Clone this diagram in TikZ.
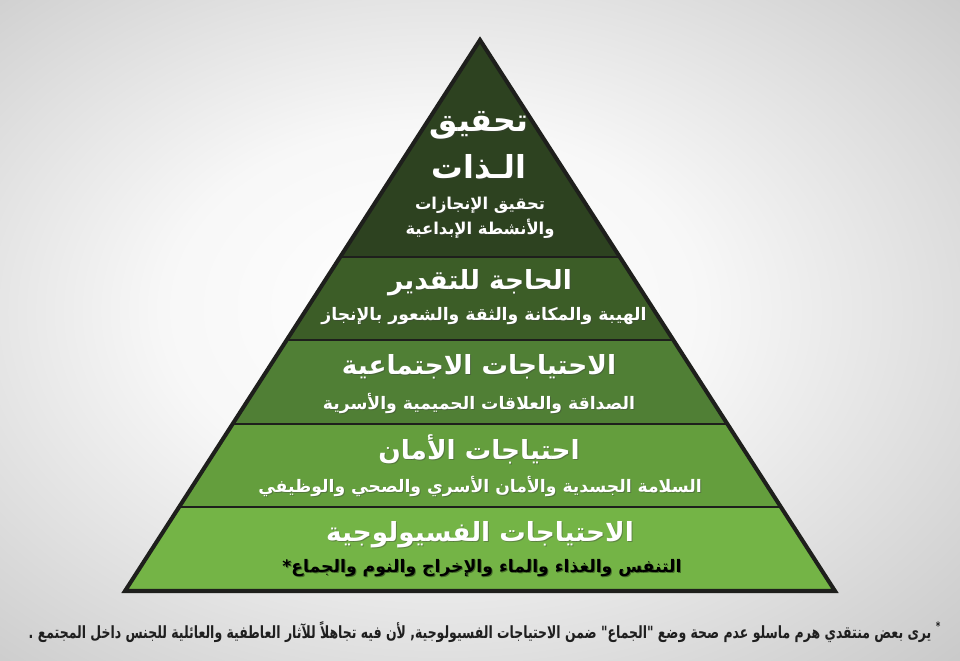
\documentclass[tikz,border=0pt]{standalone}
\usepackage{fontspec}
\usetikzlibrary{calc}
\TeXXeTstate=1
\newfontfamily\arabicfont[Script=Arabic]{DejaVu Sans}
\definecolor{lvlA}{HTML}{2D4220}
\definecolor{lvlB}{HTML}{3C5D27}
\definecolor{lvlC}{HTML}{507F35}
\definecolor{lvlD}{HTML}{649E3D}
\definecolor{lvlE}{HTML}{74B446}
\definecolor{rim}{HTML}{1E1F1C}
\pgfdeclareradialshading{backdrop}{\pgfpoint{-3bp}{2bp}}{color(0bp)=(white); color(14bp)=(white!97!black); color(50bp)=(black!31); color(74bp)=(black!46)}
\tikzset{
  edge/.style={draw=rim, line width=1.8pt},
  head/.style={text=white, font=\arabicfont\bfseries\fontsize{15}{17}\selectfont},
  bighead/.style={text=white, font=\arabicfont\bfseries\fontsize{18}{20}\selectfont},
  sub/.style={text=white, font=\arabicfont\bfseries\fontsize{9.8}{12}\selectfont},
  topsub/.style={sub, font=\arabicfont\bfseries\fontsize{9.3}{11}\selectfont},
  note/.style={text=black!88, font=\arabicfont\bfseries\fontsize{7.1}{9}\selectfont},
}
% text with a soft dark shadow
\newcommand{\shadowed}[4]{%
  \node[#3, text=black!75, opacity=0.4] (#1s) at ($(#2)+(1,1.1)$) {#4};
  \node[#3] (#1) at (#2) {#4};}
\begin{document}
\begin{tikzpicture}[x=0.02cm,y=-0.02cm]
  \useasboundingbox (0,0) rectangle (960,661);
  \shade[shading=backdrop] (0,0) rectangle (960,661);
  \coordinate (T) at (480,40); \coordinate (L) at (125,591);
  \coordinate (R) at (835,591);
  % the five levels, from the top
  \foreach \a/\b/\c in {0/0.3938/lvlA, 0.3938/0.5445/lvlB, 0.5445/0.6969/lvlC,
                        0.6969/0.8475/lvlD, 0.8475/1/lvlE}
    \fill[\c] ($(T)!\a!(L)$) -- ($(T)!\b!(L)$) -- ($(T)!\b!(R)$) -- ($(T)!\a!(R)$) -- cycle;
  \foreach \t in {0.3938,0.5445,0.6969,0.8475}
    \draw[edge, line width=1.6pt] ($(T)!\t!(L)$) -- ($(T)!\t!(R)$);
  \draw[edge, line width=2.3pt] (T) -- (L) -- (R) -- cycle;
  % labels
  \shadowed{selfA}{479,125}{bighead}{\beginR تحقيق\endR}
  \shadowed{selfB}{479,167}{bighead}{\beginR الـذات\endR}
  \shadowed{selfC}{480,205}{topsub}{\beginR تحقيق الإنجازات\endR}
  \shadowed{selfD}{480,229}{topsub}{\beginR والأنشطة الإبداعية\endR}
  \shadowed{estA}{480,283}{head}{\beginR الحاجة للتقدير\endR}
  \shadowed{estB}{484,316}{sub}{\beginR الهيبة والمكانة والثقة والشعور بالإنجاز\endR}
  \shadowed{socA}{479,367}{head}{\beginR الاحتياجات الاجتماعية\endR}
  \shadowed{socB}{479,403}{sub}{\beginR الصداقة والعلاقات الحميمية والأسرية\endR}
  \shadowed{safA}{479,449}{head}{\beginR احتياجات الأمان\endR}
  \shadowed{safB}{480,486}{sub}{\beginR السلامة الجسدية والأمان الأسري والصحي والوظيفي\endR}
  \shadowed{phyA}{480,535}{head}{\beginR الاحتياجات الفسيولوجية\endR}
  \shadowed{phyB}{482,568}{sub}{\beginR التنفس والغذاء والماء والإخراج والنوم والجماع\textcolor{black}{*}\endR}
  \node[note] (foot) at (485,632) {\scalebox{1}[1.35]{\beginR\textsuperscript{*} يرى بعض منتقدي هرم ماسلو عدم صحة وضع "الجماع" ضمن الاحتياجات الفسيولوجية,  لأن فيه تجاهلاً للآثار العاطفية والعائلية للجنس داخل المجتمع .\endR}};
\end{tikzpicture}
\end{document}
